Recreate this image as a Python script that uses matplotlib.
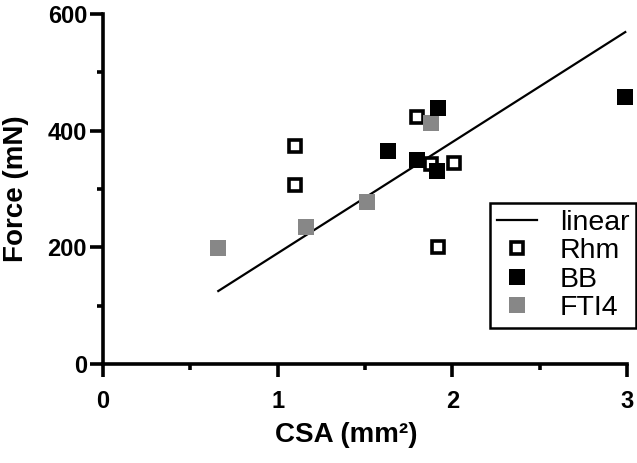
import numpy as np
import matplotlib
matplotlib.use('Agg')
import matplotlib.pyplot as plt
from matplotlib.ticker import MultipleLocator

plt.rcParams['font.family'] = ['Liberation Sans', 'DejaVu Sans']

# Data
rhm_csa = [1.80, 1.10, 1.10, 1.88, 2.01, 1.92]
rhm_force = [423, 374, 307, 343, 345, 201]
bb_csa = [1.92, 1.63, 1.80, 1.91, 2.99]
bb_force = [439, 365, 350, 331, 458]
fti4_csa = [1.88, 1.51, 1.16, 0.66]
fti4_force = [413, 278, 235, 199]
fit_slope = 190.5
fit_intercept = -0.6

fig = plt.figure(figsize=(6.37, 4.63), dpi=100)
ax = fig.add_axes([0.1617, 0.2138, 0.8226, 0.756])

all_x = np.array(rhm_csa + bb_csa + fti4_csa)
xs = np.array([all_x.min(), all_x.max()])
ax.plot(xs, fit_slope * xs + fit_intercept, color='black', lw=1.6, label='linear',
        zorder=2, clip_on=False)

ax.plot(rhm_csa, rhm_force, 's', ms=9, mfc='white', mec='black', mew=2.6,
        ls='none', label='Rhm', zorder=3, clip_on=False)
ax.plot(bb_csa, bb_force, 's', ms=11, mfc='black', mec='black', mew=0,
        ls='none', label='BB', zorder=4, clip_on=False)
ax.plot(fti4_csa, fti4_force, 's', ms=11, mfc='#878787', mec='#878787', mew=0,
        ls='none', label='FTI4', zorder=3, clip_on=False)

ax.set_xlim(0, 3)
ax.set_ylim(0, 600)
ax.xaxis.set_major_locator(MultipleLocator(1))
ax.xaxis.set_minor_locator(MultipleLocator(0.5))
ax.yaxis.set_major_locator(MultipleLocator(200))
ax.yaxis.set_minor_locator(MultipleLocator(100))

for s in ['top', 'right']:
    ax.spines[s].set_visible(False)
for s in ['left', 'bottom']:
    ax.spines[s].set_linewidth(2.6)
ax.tick_params(which='major', length=9.5, width=2.6, labelsize=17)
ax.tick_params(which='minor', length=4.5, width=2.6)
ax.tick_params(axis='x', which='major', pad=9)
ax.tick_params(axis='y', which='major', pad=2)
for lbl in ax.get_xticklabels() + ax.get_yticklabels():
    lbl.set_fontweight('bold')

ax.set_xlabel('CSA (mm²)', fontsize=20, fontweight='bold', labelpad=12)
ax.xaxis.set_label_coords(0.464, -0.165)
ax.set_ylabel('Force (mN)', fontsize=20, fontweight='bold', labelpad=13)

leg = ax.legend(loc='upper left', bbox_to_anchor=(490 / 637, 1 - 203 / 463),
                bbox_transform=fig.transFigure, borderaxespad=0, fontsize=20.5,
                frameon=True, fancybox=False, edgecolor='black', framealpha=1,
                handlelength=1.4, handletextpad=0.8, borderpad=0.25,
                labelspacing=0.08)
leg.get_frame().set_linewidth(1.8)

fig.savefig('out.png', dpi=100)
